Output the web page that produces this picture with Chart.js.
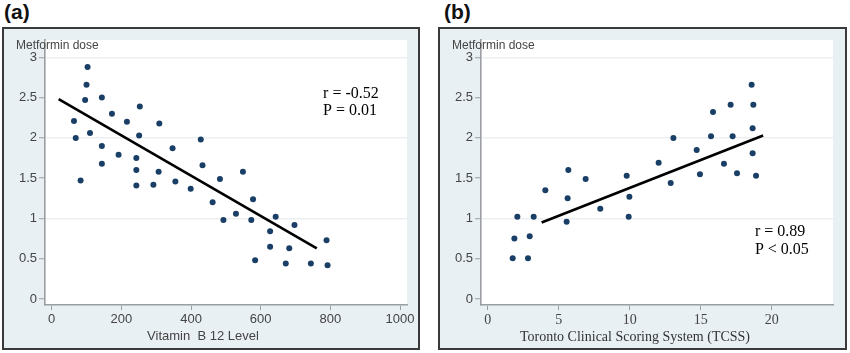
<!DOCTYPE html>
<html>
<head>
<meta charset="utf-8">
<script src="https://cdn.jsdelivr.net/npm/chart.js@4.4.1/dist/chart.umd.min.js"></script>
<style>
  body { margin: 0; width: 850px; height: 353px; background: #fff; position: relative; overflow: hidden; font-family: "Liberation Sans", Arial, sans-serif; }
  .tag { position: absolute; top: 0; font: bold 21px "Liberation Sans", Arial, sans-serif; color: #111; }
  .box { position: absolute; top: 27px; height: 323px; border: 2px solid #3a3a3a; background: #e9f0f4; box-sizing: border-box; }
  .box .wrap { position: absolute; left: 0; top: 0; width: 100%; height: 100%; }
</style>
</head>
<body>
<div class="tag" style="left:4px">(a)</div>
<div class="tag" style="left:444px">(b)</div>
<div class="box" style="left:2px; width:418px"><div class="wrap"><canvas id="chartA"></canvas></div></div>
<div class="box" style="left:438px; width:409px"><div class="wrap"><canvas id="chartB"></canvas></div></div>
<script>
// panel (a): vitamin B12 level vs metformin dose
const vitB12 = [103, 100, 96, 144, 64, 69, 110, 83, 144, 144, 173, 192, 216, 253, 251, 243, 243, 243, 292, 307, 309, 347, 355, 399, 428, 433, 462, 483, 493, 529, 549, 573, 578, 584, 627, 627, 643, 672, 682, 697, 744, 789, 792];
const doseA = [2.88, 2.66, 2.47, 2.50, 2.21, 2.00, 2.06, 1.47, 1.90, 1.68, 2.30, 1.79, 2.20, 2.39, 2.03, 1.75, 1.60, 1.41, 1.42, 1.58, 2.18, 1.87, 1.46, 1.37, 1.98, 1.66, 1.20, 1.49, 0.98, 1.06, 1.58, 0.98, 1.24, 0.48, 0.84, 0.65, 1.02, 0.44, 0.63, 0.92, 0.44, 0.73, 0.42];
const fitAx = [20, 761];
const fitAy = [2.48, 0.63];
const xTicksA = [0, 200, 400, 600, 800, 1000];

// panel (b): TCSS vs metformin dose
const tcss = [1.76, 1.88, 2.09, 2.84, 2.96, 3.24, 4.06, 5.56, 5.63, 5.68, 6.90, 7.93, 9.79, 9.98, 9.93, 12.04, 12.89, 13.08, 14.72, 14.95, 15.73, 15.87, 16.64, 17.11, 17.25, 17.56, 18.59, 18.71, 18.66, 18.66, 18.90];
const doseB = [0.505, 0.75, 1.02, 0.505, 0.78, 1.02, 1.35, 0.96, 1.25, 1.60, 1.49, 1.12, 1.53, 1.27, 1.02, 1.69, 1.44, 2.00, 1.85, 1.55, 2.02, 2.32, 1.68, 2.41, 2.02, 1.56, 2.66, 2.41, 2.12, 1.81, 1.53];
const fitBx = [3.8, 19.4];
const fitBy = [0.95, 2.03];
const xTicksB = [0, 5, 10, 15, 20];

const yTicks = [0, 0.5, 1, 1.5, 2, 2.5, 3];

const SANS = '"Liberation Sans", Arial, sans-serif';
const SERIF = '"Liberation Serif", "Times New Roman", serif';

// white plot region + free text (axis titles, r / P notes)
const plotDecor = {
    id: 'plotDecor',
    beforeDraw(chart) {
        const a = chart.chartArea, ctx = chart.ctx;
        ctx.save();
        ctx.fillStyle = '#ffffff';
        ctx.fillRect(a.left - 1, a.top, a.right - a.left + 1, a.bottom - a.top);
        ctx.restore();
    },
    afterDraw(chart, args, opts) {
        const ctx = chart.ctx;
        ctx.save();
        (opts.items || []).forEach(it => {
            let x = it.x, y = it.y;
            if (it.data) {
                x = chart.scales.x.getPixelForValue(it.x);
                y = chart.scales.y.getPixelForValue(it.y);
            }
            ctx.font = it.font;
            ctx.fillStyle = it.color || '#333';
            ctx.textAlign = it.align || 'left';
            ctx.textBaseline = 'alphabetic';
            ctx.fillText(it.text, x, y);
        });
        ctx.restore();
    }
};

function makeChart(id, cfg) {
    const pts = cfg.xs.map((x, i) => ({x: x, y: cfg.ys[i]}));
    const fit = cfg.fitX.map((x, i) => ({x: x, y: cfg.fitY[i]}));
    return new Chart(document.getElementById(id), {
        type: 'scatter',
        data: {
            datasets: [
                {
                    data: fit,
                    showLine: true,
                    borderColor: '#000',
                    borderWidth: 2.6,
                    pointRadius: 0
                },
                {
                    data: pts,
                    backgroundColor: '#1a3f66',
                    borderWidth: 0,
                    pointRadius: 3
                }
            ]
        },
        options: {
            responsive: true,
            maintainAspectRatio: false,
            animation: false,
            layout: { padding: { left: 0, top: 11, right: cfg.padRight, bottom: 0 } },
            plugins: {
                legend: { display: false },
                tooltip: { enabled: false },
                plotDecor: { items: cfg.notes }
            },
            scales: {
                x: {
                    type: 'linear',
                    min: cfg.xMin,
                    max: cfg.xMax,
                    afterBuildTicks: s => { s.ticks = cfg.xTicks.map(v => ({value: v})); },
                    afterFit: s => { s.height = 43; },
                    border: { color: '#9a9ea2', width: 1.6 },
                    grid: { drawOnChartArea: false, tickColor: '#9a9ea2', tickLength: 5, tickWidth: 1 },
                    ticks: {
                        autoSkip: false,
                        maxRotation: 0,
                        padding: 2,
                        color: '#444',
                        font: cfg.xTickFont,
                        callback: v => String(v)
                    }
                },
                y: {
                    type: 'linear',
                    min: -0.074,
                    max: 3.215,
                    afterBuildTicks: s => { s.ticks = yTicks.map(v => ({value: v})); },
                    afterFit: s => { s.width = 41; },
                    border: { color: '#9a9ea2', width: 1.6 },
                    grid: {
                        color: c => (c.tick && Number.isInteger(c.tick.value) && c.tick.value > 0) ? '#eceff1' : 'rgba(0,0,0,0)',
                        lineWidth: 1.5,
                        tickColor: '#9a9ea2',
                        tickLength: 6,
                        tickWidth: 1
                    },
                    ticks: {
                        padding: 2,
                        color: '#444',
                        font: { family: SANS, size: 13 },
                        callback: v => String(v)
                    }
                }
            }
        },
        plugins: [plotDecor]
    });
}

makeChart('chartA', {
    xs: vitB12, ys: doseA, fitX: fitAx, fitY: fitAy,
    xTicks: xTicksA, xMin: -19.2, xMax: 1020,
    padRight: 11,
    xTickFont: { family: SANS, size: 13 },
    notes: [
        { text: 'Metformin dose', x: 12, y: 20, font: '12px ' + SANS, color: '#444' },
        { text: 'Vitamin  B 12 Level', x: 199, y: 311, font: '13px ' + SANS, color: '#444', align: 'center' },
        { text: 'r = -0.52', x: 779, y: 2.50, data: true, font: '16px ' + SERIF, color: '#000' },
        { text: 'P = 0.01', x: 779, y: 2.28, data: true, font: '16px ' + SERIF, color: '#000' }
    ]
});

makeChart('chartB', {
    xs: tcss, ys: doseB, fitX: fitBx, fitY: fitBy,
    xTicks: xTicksB, xMin: -0.47, xMax: 24.32,
    padRight: 12,
    xTickFont: { family: SERIF, size: 14 },
    notes: [
        { text: 'Metformin dose', x: 12, y: 20, font: '12px ' + SANS, color: '#444' },
        { text: 'Toronto Clinical Scoring System (TCSS)', x: 195, y: 312, font: '14px ' + SERIF, color: '#333', align: 'center' },
        { text: 'r = 0.89', x: 18.82, y: 0.78, data: true, font: '16px ' + SERIF, color: '#000' },
        { text: 'P < 0.05', x: 18.82, y: 0.56, data: true, font: '16px ' + SERIF, color: '#000' }
    ]
});
</script>
</body>
</html>
